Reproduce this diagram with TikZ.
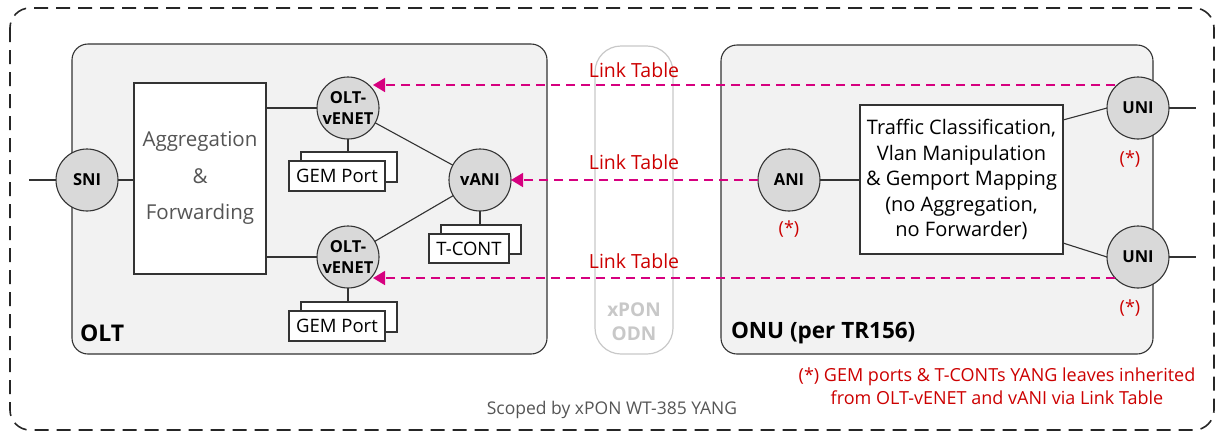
\documentclass[tikz,border=0pt]{standalone}
\usepackage{fontspec}
\setmainfont{Open Sans}
\usetikzlibrary{arrows.meta}
\definecolor{boxfill}{HTML}{F2F2F2}
\definecolor{circfill}{HTML}{D9D9D9}
\definecolor{linkred}{HTML}{CC0000}
\definecolor{linkmag}{HTML}{D6007F}
\definecolor{odngray}{HTML}{C8C8C8}
\definecolor{txtgray}{HTML}{555555}
\newcommand{\fs}[1]{\fontsize{#1}{#1}\selectfont}
\tikzset{
  x=1pt, y=-1pt,
  every node/.style={inner sep=0pt, outer sep=0pt},
  port/.style={circle, draw=black!80, fill=circfill, line width=1.1pt, minimum size=62pt, font=\fs{16.5}\bfseries, align=center},
  plain/.style={draw=black!80, line width=1.1pt},
  linkarrow/.style={draw=linkmag, line width=1.6pt, dash pattern=on 9pt off 6pt, -{Triangle[length=12pt,width=14pt]}},
  linklabel/.style={text=linkred, font=\fs{19.5}},
  star/.style={text=linkred, font=\fs{18}},
  wbox/.style={draw=black!80, fill=white, line width=1.1pt},
}
\begin{document}
\begin{tikzpicture}
\useasboundingbox (0,0) rectangle (1221,432);
% outer scope
\draw[black!85, line width=1.6pt, dash pattern=on 14pt off 8pt, rounded corners=20pt] (10,8) rectangle (1214,430);
% OLT box
\draw[plain, fill=boxfill, rounded corners=16pt] (72,44) rectangle (547,354);
% ONU box
\draw[plain, fill=boxfill, rounded corners=16pt] (721,45) rectangle (1153,354);
% ODN
\draw[odngray, line width=1.2pt, rounded corners=26pt] (595,46) rectangle (673,354);
\node[text=odngray, font=\fs{19}\bfseries, align=center] (odn) at (634,322) {xPON\\[5pt]ODN};

% OLT internals
\node[port] (sni) at (87,180) {SNI};
\coordinate (snil) at (29,180);
\node[wbox, minimum width=132pt, minimum height=191pt] (agg) at (200,178.5) {};
\node[text=txtgray, font=\fs{20.5}, align=center] (aggt) at (200,178) {Aggregation\\[16pt]\&\\[16pt]Forwarding};
\node[port] (v1) at (348,108) {OLT-\\[5pt]vENET};
\node[port] (v2) at (348,257) {OLT-\\[5pt]vENET};
\node[port] (vani) at (480,180) {vANI};
% GEM port 1
\node[wbox, minimum width=96pt, minimum height=30pt] (g1b) at (349,167) {};
\node[wbox, minimum width=96pt, minimum height=30pt, font=\fs{18.5}] (g1) at (337,176) {GEM Port};
\node[wbox, minimum width=96pt, minimum height=30pt] (g2b) at (349,317) {};
\node[wbox, minimum width=96pt, minimum height=30pt, font=\fs{18.5}] (g2) at (337,326) {GEM Port};
\node[wbox, minimum width=80pt, minimum height=29pt] (tcb) at (481,239.5) {};
\node[wbox, minimum width=80pt, minimum height=29pt, font=\fs{18.5}] (tc) at (469,248.5) {T-CONT};

\draw[plain] (snil) -- (sni);
\draw[plain] (sni) -- (agg.west |- sni);
\draw[plain] (agg.east |- v1) -- (v1);
\draw[plain] (agg.east |- v2) -- (v2);
\draw[plain] (v1) -- (g1b.north -| v1);
\draw[plain] (v2) -- (g2b.north -| v2);
\draw[plain] (vani) -- (tcb.north -| vani);
\draw[plain] (v1) -- (vani);
\draw[plain] (v2) -- (vani);
\node[font=\fs{23}\bfseries, anchor=west] (oltl) at (80,333) {OLT};

% ONU internals
\node[port] (ani) at (789,180) {ANI};
\node[port] (u1) at (1138,108) {UNI};
\node[port] (u2) at (1138,257) {UNI};
\node[wbox, minimum width=203pt, minimum height=149pt, font=\fs{20}, align=center] (tr) at (961.5,179.5) {Traffic Classification,\\[5.5pt]Vlan Manipulation\\[5.5pt]\& Gemport Mapping\\[5.5pt](no Aggregation,\\[5.5pt]no Forwarder)};
\coordinate (u1r) at (1196,108);
\coordinate (u2r) at (1196,257);
\draw[plain] (ani) -- (tr.west |- ani);
\draw[plain] ([yshift=-15pt]tr.north east) -- (u1.west);
\draw[plain] ([yshift=11pt]tr.south east) -- (u2.west);
\draw[plain] (u1) -- (u1r);
\draw[plain] (u2) -- (u2r);
\node[star] (s1) at (789,229) {(*)};
\node[star] (s2) at (1130,159) {(*)};
\node[star] (s3) at (1130,308) {(*)};
\node[font=\fs{22.5}\bfseries, anchor=west] (onul) at (731,333) {ONU (per TR156)};

% link table arrows
\coordinate (a1s) at (1115,85);
\coordinate (a3s) at (1115,278);
\coordinate (a1e) at (373,85);
\coordinate (a3e) at (373,278);
\draw[linkarrow] (a1s) -- (a1e);
\draw[linkarrow] (ani.west) -- (vani.east);
\draw[linkarrow] (a3s) -- (a3e);
\node[linklabel] (l1) at (634,70) {Link Table};
\node[linklabel] (l2) at (634,162) {Link Table};
\node[linklabel] (l3) at (634,261) {Link Table};

% footnotes
\node[text=linkred, font=\fs{18}, align=center] (fn) at (997,386) {(*) GEM ports \& T-CONTs YANG leaves inherited\\[4pt]from OLT-vENET and vANI via Link Table};
\node[text=txtgray, font=\fs{17.5}] (scope) at (612,410) {Scoped by xPON WT-385 YANG};
\end{tikzpicture}
\end{document}
